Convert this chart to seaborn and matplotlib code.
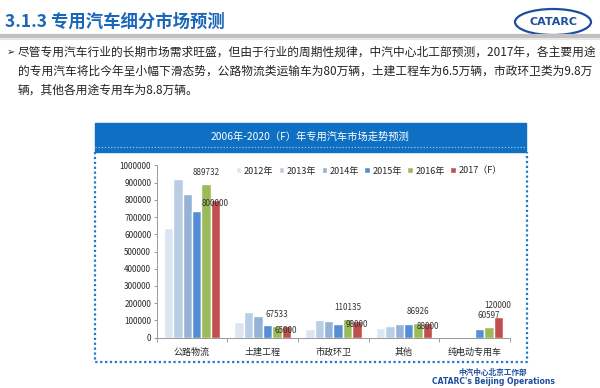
import pandas as pd
import matplotlib.pyplot as plt
import seaborn as sns
from matplotlib.patches import Rectangle, Ellipse
from matplotlib.lines import Line2D
from matplotlib.ticker import FuncFormatter

# chart data
categories = ['公路物流', '土建工程', '市政环卫', '其他', '纯电动专用车']
years = ['2012年', '2013年', '2014年', '2015年', '2016年', '2017（F）']
v2012 = [635000, 93000, 52000, 58000, 0]
v2013 = [920000, 149000, 104000, 70000, 2000]
v2014 = [833000, 124000, 95000, 80000, 3000]
v2015 = [737000, 75000, 81000, 80000, 50000]
v2016 = [889732, 67533, 110135, 86926, 60597]
v2017 = [800000, 65000, 98000, 88000, 120000]
colors = ['#dce6f2', '#b9cde5', '#95b3d7', '#558ed5', '#9bbb59', '#c0504d']

title = '3.1.3 专用汽车细分市场预测'
body = ['尽管专用汽车行业的长期市场需求旺盛，但由于行业的周期性规律，中汽中心北工部预测，2017年，各主要用途',
        '的专用汽车将比今年呈小幅下滑态势，公路物流类运输车为80万辆，土建工程车为6.5万辆，市政环卫类为9.8万',
        '辆，其他各用途专用车为8.8万辆。']
chart_title = '2006年-2020（F）年专用汽车市场走势预测'

rows = []
for yr, vals in zip(years, [v2012, v2013, v2014, v2015, v2016, v2017]):
    for c, v in zip(categories, vals):
        rows.append({'cat': c, 'year': yr, 'value': v})
df = pd.DataFrame(rows)

sns.set_style('white')
plt.rcParams['font.family'] = ['Noto Sans CJK SC', 'DejaVu Sans']

W, H = 600, 388
fig = plt.figure(figsize=(6, 3.88), dpi=100)


def px(x, y):
    return x / W, 1 - y / H


blue = '#1a66b8'

# slide header
fig.text(*px(5, 22), title, color=blue, fontsize=12.5, fontweight='bold', va='center')
fig.add_artist(Line2D([0, 1], [1 - 36 / H] * 2, color='#c0c0c0', lw=3))
fig.add_artist(Line2D([0, 1], [1 - 39 / H] * 2, color='#e6e6e6', lw=1.5))
fig.add_artist(Ellipse(px(553, 22), 76 / W, 26 / H, fill=False, ec='#1d4e9e', lw=1.6))
fig.text(*px(553, 22), 'CATARC', color='#1d4e9e', fontsize=8, fontweight='bold',
         ha='center', va='center', family='DejaVu Sans')

fig.text(*px(7, 52), '➢', fontsize=7, va='center', family=['DejaVu Sans'])
for i, line in enumerate(body):
    fig.text(*px(18, 52 + i * 19), line, fontsize=8.45, va='center', color='#222222')

# chart box
x0, y0 = px(95, 152)
x1, y1 = px(526, 123)
fig.add_artist(Rectangle((x0, y0), x1 - x0, y1 - y0, transform=fig.transFigure,
                         color='#0f6fc2', zorder=0))
fig.add_artist(Line2D([x0, x1], [1 - 147 / H] * 2, color='#9ec6ea', lw=0.9, ls=(0, (1, 1.5))))
fig.text(*px(310, 137), chart_title, color='white', fontsize=7.4, ha='center', va='center')
bx = [95, 95, 527, 527]
by = [152, 362, 362, 152]
fig.add_artist(Line2D([b / W for b in bx], [1 - b / H for b in by], color='#1f77d0',
                      lw=1.6, ls=(0, (1, 1.2))))

# the chart itself
ax = fig.add_axes([156.7 / W, 1 - 337.7 / H, 353.3 / W, 172.4 / H])
sns.barplot(data=df, x='cat', y='value', hue='year', palette=colors, width=0.8,
            gap=0, ax=ax, saturation=1, legend=True)
ax.set_ylim(0, 1000000)
ax.set_xlim(-0.5, 4.5)
ax.set_yticks(range(0, 1000001, 100000))
ax.yaxis.set_major_formatter(FuncFormatter(lambda v, p: f'{int(v)}'))
ax.tick_params(axis='y', labelsize=5.8, length=2.5, width=0.6, color='#888888', pad=1.5,
               left=True)
ax.tick_params(axis='x', labelsize=6.5, length=0, pad=7)
ax.set_xticks([-0.5, 0.5, 1.5, 2.5, 3.5, 4.5], minor=True)
ax.tick_params(axis='x', which='minor', length=3, width=0.6, color='#888888', bottom=True)
ax.set_xlabel('')
ax.set_ylabel('')
for s in ['top', 'right']:
    ax.spines[s].set_visible(False)
for s in ['left', 'bottom']:
    ax.spines[s].set_color('#999999')
    ax.spines[s].set_linewidth(0.7)
ax.patch.set_alpha(0)

# data labels on 2016 and 2017 series
lab_off16 = [5, 5, 5, 5, 5]
lab_off17 = [-3, -3, -3, -3, 5]
for k, (vals, offs) in enumerate([(v2016, lab_off16), (v2017, lab_off17)]):
    cont = ax.containers[4 + k]
    for bar, v, o in zip(cont, vals, offs):
        ax.annotate(str(v), (bar.get_x() + bar.get_width() / 2, v), xytext=(0, o),
                    textcoords='offset points', ha='center', fontsize=5.8,
                    va='bottom' if o > 0 else 'center', color='#333333')

handles, labels = ax.get_legend_handles_labels()
ax.legend(handles, labels, ncol=6, loc='upper center', bbox_to_anchor=(0.6, 1.04),
          frameon=False, fontsize=6.5, handlelength=0.6, handleheight=0.6,
          handletextpad=0.3, columnspacing=0.6)

# footer
fig.text(*px(493, 372), '中汽中心北京工作部', color='#1d4e9e', fontsize=5.5,
         fontweight='bold', ha='center', va='center')
fig.text(*px(493, 381), "CATARC's Beijing Operations", color='#1d4e9e', fontsize=5.5,
         fontweight='bold', ha='center', va='center', family='DejaVu Sans')

plt.savefig('out.png', dpi=100)
